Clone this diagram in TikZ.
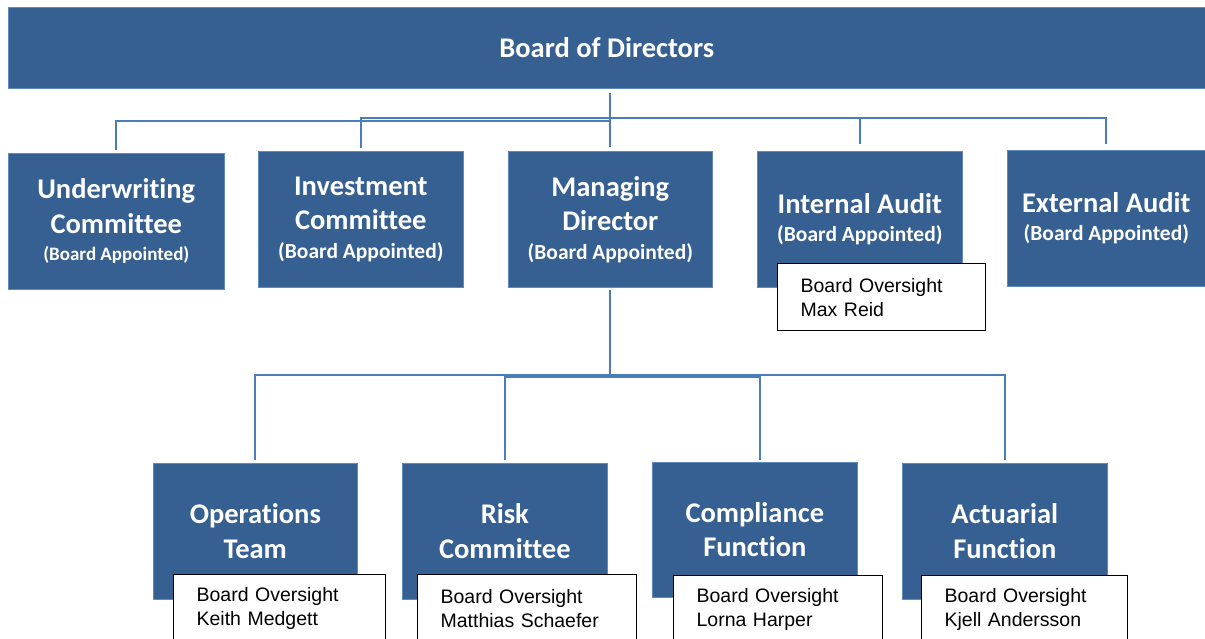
\documentclass[tikz,border=0pt]{standalone}
\usepackage{fontspec}
\setmainfont{Liberation Sans}
\newfontfamily\carlito[Ligatures={NoCommon,NoContextual}]{Carlito}
\usepackage[dvipsnames]{xcolor}
\definecolor{boxblue}{RGB}{55,96,146}
\definecolor{rimblue}{RGB}{96,137,190}
\definecolor{lineblue}{RGB}{74,126,187}

\begin{document}
\begin{tikzpicture}[x=1pt,y=-1pt,
    unit node/.style={rectangle,anchor=north west,draw=rimblue,line width=0.6pt,fill=boxblue,text=white,inner sep=0pt,align=center,minimum width=205pt,minimum height=136pt,font=\carlito\bfseries\fontsize{28.5}{34.5}\selectfont},
    note node/.style={rectangle,anchor=north west,draw=black,line width=1.2pt,fill=white,inner xsep=23pt,inner ysep=0pt,align=left,minimum height=67pt,font=\fontsize{19.5}{24}\selectfont},
    link/.style={draw=lineblue,line width=1.8pt}]

    \useasboundingbox (0,0) rectangle (1205,638);

    \node[unit node, minimum width=1197pt, minimum height=81pt] (board) at (8,7) {Board of Directors};

    \node[unit node, minimum width=216pt] (uw) at (8,153) {Underwriting\\Committee\\[-7pt]{\fontsize{19}{23}\selectfont (Board Appointed)}};
    \node[unit node] (inv) at (258,151) {Investment\\Committee\\[-6pt]{\fontsize{21.5}{26}\selectfont (Board Appointed)}};
    \node[unit node, minimum width=204pt] (md) at (508,151) {Managing\\Director\\[-6pt]{\fontsize{21.5}{26}\selectfont (Board Appointed)}};
    \node[unit node] (ia) at (757,151) {Internal Audit\\[-6pt]{\fontsize{21.5}{26}\selectfont (Board Appointed)}};
    \node[unit node, minimum width=198pt] (ea) at (1007,150) {External Audit\\[-6pt]{\fontsize{21.5}{26}\selectfont (Board Appointed)}};

    \node[unit node, minimum width=204pt] (ops) at (153,463) {Operations\\Team};
    \node[unit node] (risk) at (402,463) {Risk\\Committee};
    \node[unit node, minimum height=135pt] (comp) at (652,462) {Compliance\\Function};
    \node[unit node] (act) at (902,463) {Actuarial\\Function};

    \node[note node, text width=162pt] (iaboard) at (777,263) {Board Oversight\\Max Reid};
    \node[note node, text width=166pt] (opsboard) at (173,574) {Board Oversight\\Keith Medgett};
    \node[note node, text width=173pt] (riskboard) at (417,574) {Board Oversight\\Matthias Schaefer};
    \node[note node, text width=163pt] (compboard) at (673,575) {Board Oversight\\Lorna Harper};
    \node[note node, text width=160pt] (actboard) at (921,575) {Board Oversight\\Kjell Andersson};

    \coordinate (upbus) at (610,121);
    \coordinate (upbus2) at (610,118);
    \coordinate (lowbus) at (610,375);
    \coordinate (lowbus2) at (610,377);

    \draw[link, shorten <=4pt, shorten >=4pt] (board.south -| md.north) -- (md.north);
    \draw[link, shorten <=3pt] (uw.north) |- (upbus);
    \draw[link, shorten <=3pt, shorten >=6pt] (inv.north) |- (upbus2) -| (ea.north);
    \draw[link, shorten <=7pt] (ia.north) -- (ia.north |- upbus2);

    \draw[link, shorten <=2pt] (md.south) -- (md.south |- lowbus2);
    \draw[link, shorten <=3pt, shorten >=3pt] (ops.north) |- (lowbus) -| (act.north);
    \draw[link, shorten <=3pt, shorten >=2pt] (risk.north) |- (lowbus2) -| ([xshift=5pt]comp.north);
\end{tikzpicture}
\end{document}
